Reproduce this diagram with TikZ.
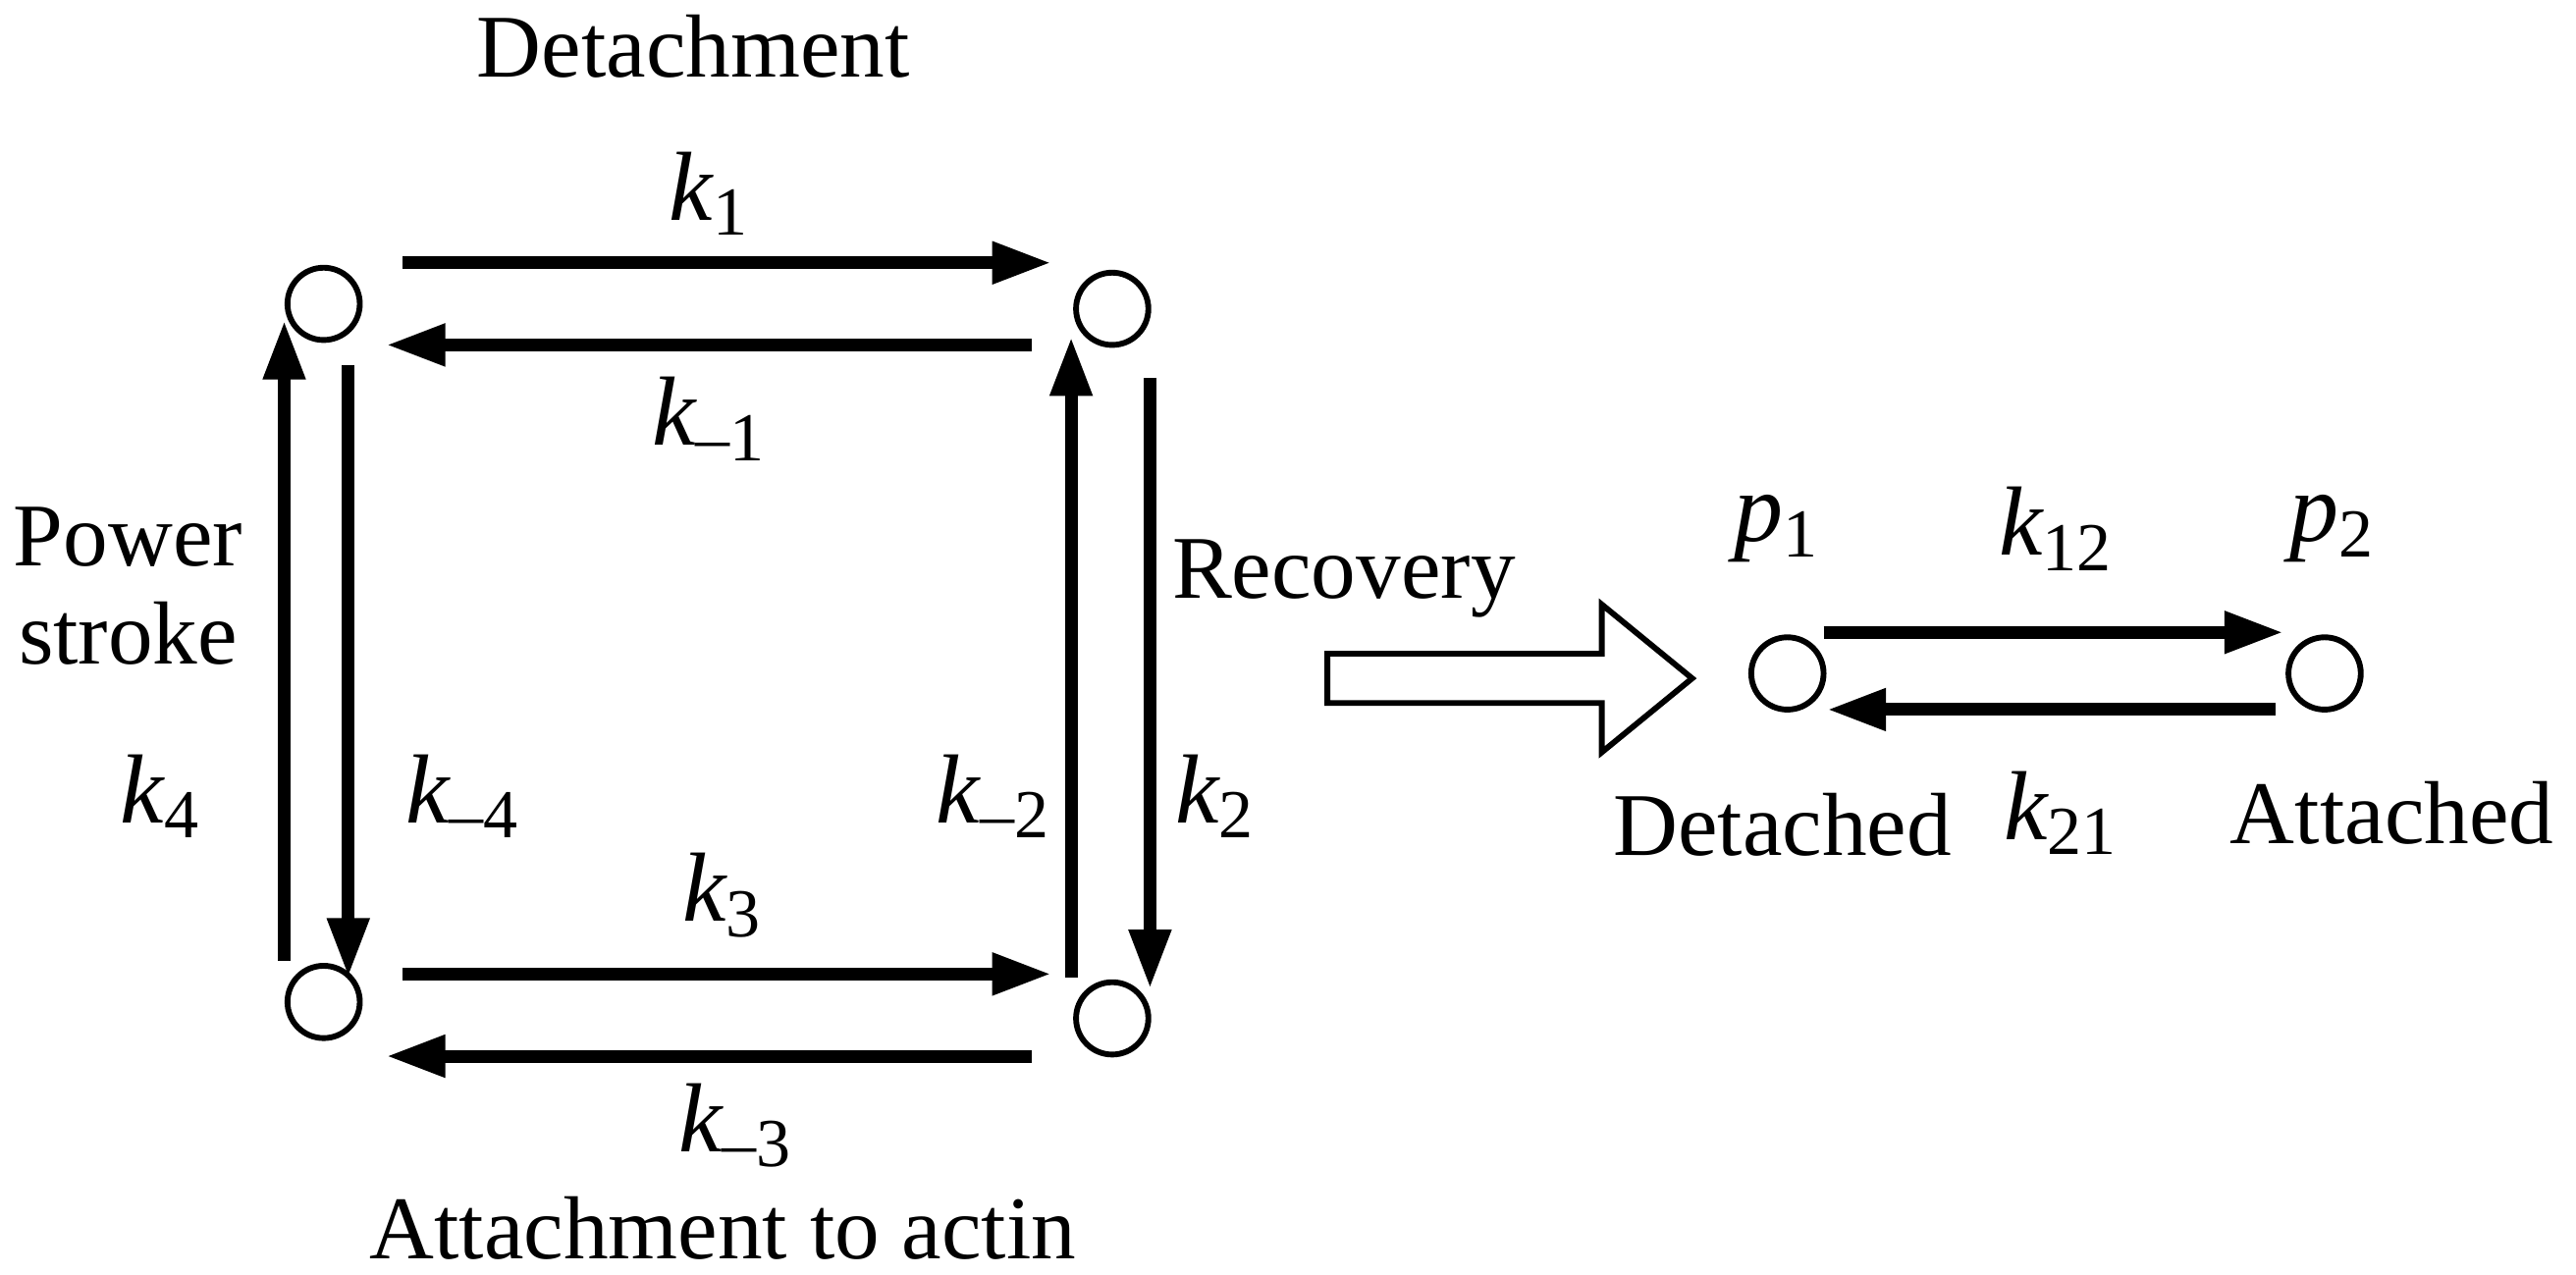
\documentclass[tikz,border=0pt]{standalone}
\usepackage{fontspec}
\setmainfont{Liberation Serif}
\usetikzlibrary{arrows.meta}
\newcommand{\kk}[1]{{\itshape k}\textsubscript{#1}}
\begin{document}
\begin{tikzpicture}[x=0.01cm,y=-0.01cm,
  st/.style={circle,draw,line width=1pt,minimum size=0.44cm,inner sep=0},
  ar/.style={line width=2.2pt,-{Triangle[length=0.36cm,width=0.24cm]}},
  lab/.style={font=\fontsize{15.5pt}{17pt}\selectfont,align=center},
  kl/.style={font=\fontsize{17pt}{19pt}\selectfont}]
\useasboundingbox (0,0) rectangle (1568,776);
\node[st] (a) at (197,185) {};
\node[st] (b) at (677,188) {};
\node[st] (c) at (197,610) {};
\node[st] (d) at (677,620) {};
\node[st] (p) at (1088,410) {};
\node[st] (q) at (1415,410) {};
\coordinate (t1s) at (245,160); \coordinate (t1e) at (640,160);
\coordinate (t2s) at (628,210); \coordinate (t2e) at (235,210);
\coordinate (l1s) at (173,585); \coordinate (l1e) at (173,195);
\coordinate (l2s) at (212,222); \coordinate (l2e) at (212,595);
\coordinate (r1s) at (652,595); \coordinate (r1e) at (652,205);
\coordinate (r2s) at (700,230); \coordinate (r2e) at (700,602);
\coordinate (b1s) at (245,593); \coordinate (b1e) at (640,593);
\coordinate (b2s) at (628,643); \coordinate (b2e) at (235,643);
\coordinate (s1s) at (1110,385); \coordinate (s1e) at (1390,385);
\coordinate (s2s) at (1385,432); \coordinate (s2e) at (1112,432);
\foreach \n in {t1,t2,l1,l2,r1,r2,b1,b2,s1,s2} \draw[ar] (\n s) -- (\n e);
\draw[line width=1pt] (808,398) -- (975,398) -- (975,368) -- (1030,413) -- (975,458) -- (975,428) -- (808,428) -- cycle;
\node[lab] (t0) at (422,28) {Detachment};
\node[kl] (k1) at (432,118) {\kk{1}};
\node[kl] (km1) at (432,255) {\kk{–1}};
\node[lab] (ps) at (78,357) {Power\\stroke};
\node[kl] (k4) at (98,485) {\kk{4}};
\node[kl] (km4) at (282,485) {\kk{–4}};
\node[kl] (km2) at (605,485) {\kk{–2}};
\node[kl] (k2) at (740,485) {\kk{2}};
\node[kl] (k3) at (440,545) {\kk{3}};
\node[kl] (km3) at (448,685) {\kk{–3}};
\node[lab] (att) at (440,748) {Attachment to actin};
\node[lab] (rec) at (818,352) {Recovery};
\node[kl] (p1) at (1082,322) {{\itshape p}\textsubscript{1}};
\node[kl] (k12) at (1252,322) {\kk{12}};
\node[kl] (p2) at (1420,322) {{\itshape p}\textsubscript{2}};
\node[lab] (det) at (1085,502) {Detached};
\node[kl] (k21) at (1255,495) {\kk{21}};
\node[lab] (atd) at (1456,495) {Attached};
\end{tikzpicture}
\end{document}
